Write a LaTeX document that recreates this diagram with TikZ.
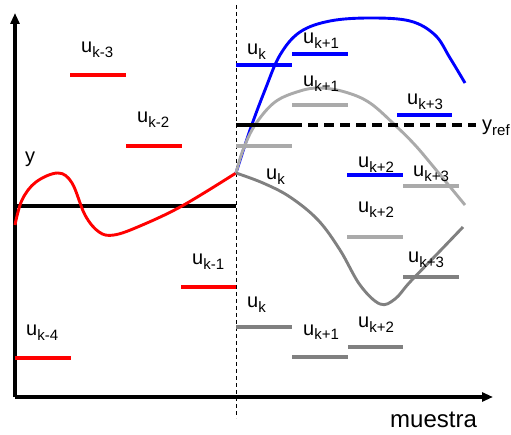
\documentclass[tikz,border=0pt]{standalone}
\usepackage{fontspec}
\setmainfont{Liberation Sans}
\usetikzlibrary{arrows.meta}
\newcommand{\usub}[1]{u\raisebox{-5pt}{\fontsize{15}{15}\selectfont #1}}
\definecolor{lgray}{RGB}{170,170,170}
\definecolor{dgray}{RGB}{128,128,128}
\tikzset{
  lbl/.style={anchor=base west,inner sep=0pt,font=\fontsize{20}{24}\selectfont},
  seg/.style={line width=3.6pt},
  crv/.style={line width=2.9pt,line join=round},
  ax/.style={line width=3.2pt,-{Triangle[length=11pt,width=9pt]}}
}
\begin{document}
\begin{tikzpicture}[x=1pt,y=-1pt]
\useasboundingbox (0,0) rectangle (511,435);
% axes
\coordinate (o) at (15,397);
\coordinate (ytip) at (15,13);
\coordinate (xtip) at (493,397);
\draw[ax] (o) -- (ytip);
\draw[ax] (o) -- (xtip);
% dashed vertical
\coordinate (vt) at (236,5);
\coordinate (vb) at (236,418);
\draw[line width=1pt,dash pattern=on 4pt off 3pt] (vt) -- (vb);
% black reference line (past)
\draw[line width=3.4pt] (15,206) -- (236,206);
% red past curve
\draw[crv,red] plot[smooth,tension=0.6] coordinates {(15,225) (22,200) (36,182) (58,173) (72,183) (85,215) (99,232) (114,235) (140,226) (182,206) (236,173)};
% red past inputs
\draw[seg,red] (70,75) -- (126,75);
\draw[seg,red] (126,146) -- (182,146);
\draw[seg,red] (181,287) -- (236,287);
\draw[seg,red] (15,358) -- (71,358);
% future curves
\draw[crv,blue] plot[smooth,tension=0.6] coordinates {(236,173) (250,130) (265,90) (280,55) (300,32) (330,21) (370,18) (410,21) (435,35) (450,58) (465,83)};
\draw[crv,lgray] plot[smooth,tension=0.6] coordinates {(236,173) (243,150) (255,125) (275,102) (300,91) (320,88) (345,92) (370,103) (397,127) (415,145) (432,165) (465,205)};
\draw[crv,dgray] plot[smooth,tension=0.6] coordinates {(236,173) (263,183) (290,197) (318,220) (340,250) (360,285) (380,304) (395,299) (410,282) (440,251) (463,227)};
% reference
\draw[seg,black] (236,125) -- (292,125);
\draw[line width=3.4pt,dash pattern=on 10pt off 6pt] (292,125) -- (476,125);
% blue inputs
\draw[seg,blue] (236,65) -- (292,65);
\draw[seg,blue] (292,54) -- (348,54);
\draw[seg,blue] (347,175) -- (403,175);
\draw[seg,blue] (397,115) -- (452,115);
% light gray inputs
\draw[seg,lgray] (236,146) -- (292,146);
\draw[seg,lgray] (292,105) -- (348,105);
\draw[seg,lgray] (347,237) -- (403,237);
\draw[seg,lgray] (403,186) -- (459,186);
% dark gray inputs
\draw[seg,dgray] (236,327) -- (292,327);
\draw[seg,dgray] (292,357) -- (348,357);
\draw[seg,dgray] (348,347) -- (403,347);
\draw[seg,dgray] (403,277) -- (459,277);
% labels
\node[lbl] (lk3) at (81,53) {\usub{k-3}};
\node[lbl] (lk2) at (137,123) {\usub{k-2}};
\node[lbl] (ly) at (25,163) {y};
\node[lbl] (lk1) at (192,265) {\usub{k-1}};
\node[lbl] (lk4) at (26,336) {\usub{k-4}};
\node[lbl] (bk0) at (247,55) {\usub{k}};
\node[lbl] (bk1) at (303,44) {\usub{k+1}};
\node[lbl] (gk1) at (303,87) {\usub{k+1}};
\node[lbl] (bk3) at (407,105) {\usub{k+3}};
\node[lbl] (yref) at (482,131) {y\raisebox{-5pt}{\fontsize{15}{15}\selectfont ref}};
\node[lbl] (bk2) at (358,168) {\usub{k+2}};
\node[lbl] (gk3) at (413,177) {\usub{k+3}};
\node[lbl] (dk0a) at (266,180) {\usub{k}};
\node[lbl] (gk2) at (358,213) {\usub{k+2}};
\node[lbl] (dk3) at (408,263) {\usub{k+3}};
\node[lbl] (dk0) at (247,308) {\usub{k}};
\node[lbl] (dk1) at (303,335) {\usub{k+1}};
\node[lbl] (dk2) at (358,328) {\usub{k+2}};
\node[lbl,font=\fontsize{24}{28}\selectfont] (mu) at (390,427) {muestra};
\end{tikzpicture}
\end{document}
